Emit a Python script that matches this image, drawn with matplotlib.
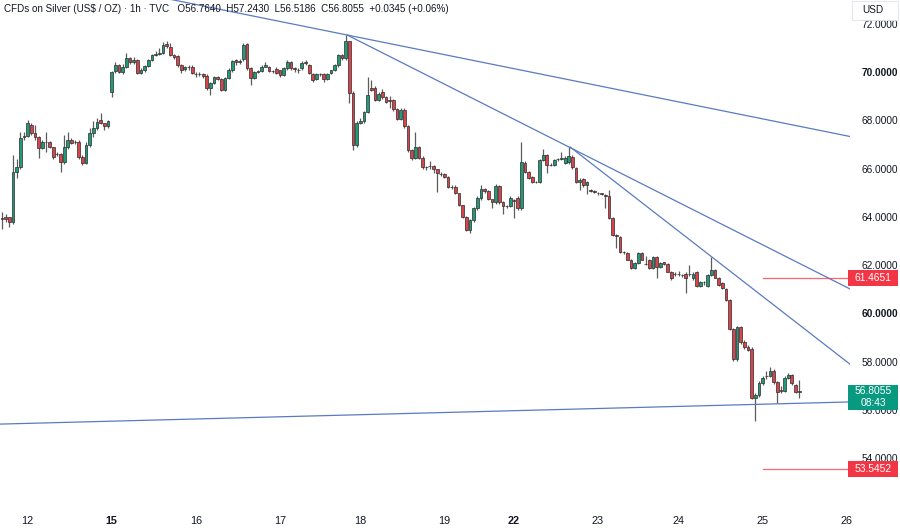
import matplotlib
matplotlib.use('Agg')
import matplotlib.pyplot as plt
import matplotlib.transforms as mtransforms
from matplotlib.patches import Rectangle
import numpy as np

# Часовые свечи CFD на серебро (TVC), 11-25 декабря
opens = [
    63.96, 64.00, 63.98, 63.79, 65.86, 66.07, 67.30, 67.35, 67.81, 67.47,
    67.31, 66.85, 67.10, 67.10, 66.89, 66.60, 66.60, 66.27, 66.89, 67.18,
    67.10, 67.10, 66.48, 66.23, 66.98, 67.47, 67.68, 68.01, 67.89, 67.76,
    69.17, 70.04, 70.29, 70.00, 70.21, 70.58, 70.41, 70.50, 69.96, 70.08,
    70.25, 70.50, 70.72, 70.75, 70.79, 71.16, 71.04, 70.71, 70.66, 70.29,
    70.12, 70.21, 70.21, 69.92, 69.92, 69.92, 69.83, 69.34, 69.54, 69.79,
    69.71, 69.25, 69.75, 70.08, 70.50, 70.41, 70.54, 71.16, 70.17, 69.75,
    70.00, 70.04, 70.21, 70.21, 70.04, 70.12, 70.08, 69.88, 70.17, 70.41,
    70.17, 70.08, 70.17, 70.37, 70.29, 69.92, 69.71, 69.92, 69.92, 69.71,
    69.96, 70.08, 70.29, 70.71, 70.58, 71.28, 69.13, 66.98, 67.89, 67.97,
    68.34, 69.34, 69.34, 68.84, 69.17, 68.96, 68.84, 68.84, 68.47, 68.05,
    68.43, 67.76, 66.77, 66.44, 66.89, 66.44, 66.07, 66.11, 66.11, 65.98,
    65.78, 65.78, 65.65, 65.24, 65.24, 64.99, 64.49, 64.00, 63.46, 63.87,
    64.37, 64.78, 65.16, 65.07, 64.74, 64.62, 65.28, 64.62, 64.45, 64.45,
    64.70, 64.78, 64.37, 66.23, 65.86, 65.65, 65.45, 65.45, 66.36, 66.56,
    66.15, 66.15, 66.38, 66.40, 66.23, 66.27, 66.48, 66.03, 65.45, 65.57,
    65.32, 65.11, 65.07, 65.00, 64.97, 64.91, 64.86, 63.96, 63.25, 63.17,
    62.55, 62.51, 62.22, 61.89, 62.09, 62.51, 62.05, 62.22, 61.89, 62.34,
    61.93, 62.13, 62.05, 61.72, 61.64, 61.64, 61.60, 61.64, 61.64, 61.47,
    61.72, 61.14, 61.31, 61.14, 61.60, 61.80, 61.47, 61.26, 61.02, 60.56,
    59.36, 58.12, 59.44, 58.82, 58.61, 58.53, 56.50, 56.63, 57.12, 57.40,
    57.42, 57.62, 57.17, 56.83, 56.79, 57.33, 57.46, 57.04, 56.764,
]
closes = [
    63.92, 63.90, 63.79, 65.86, 66.07, 67.27, 67.35, 67.89, 67.47, 67.31,
    66.85, 67.10, 67.12, 66.89, 66.48, 66.62, 66.27, 66.89, 67.18, 67.06,
    67.12, 66.48, 66.23, 66.98, 67.47, 67.68, 67.93, 67.89, 67.76, 67.97,
    70.00, 70.29, 70.00, 70.21, 70.58, 70.41, 70.50, 69.96, 70.08, 70.25,
    70.50, 70.70, 70.75, 70.78, 71.12, 71.08, 70.71, 70.62, 70.29, 70.08,
    70.21, 70.19, 69.96, 69.90, 69.92, 69.83, 69.34, 69.54, 69.79, 69.71,
    69.25, 69.75, 70.08, 70.46, 70.41, 70.46, 71.12, 70.17, 69.75, 70.00,
    70.04, 70.21, 70.29, 70.04, 70.04, 69.96, 69.88, 70.17, 70.41, 70.17,
    70.13, 70.08, 70.37, 70.40, 69.96, 69.67, 69.92, 69.90, 69.71, 69.92,
    70.08, 70.29, 70.71, 70.58, 71.28, 69.13, 66.98, 67.89, 67.97, 68.34,
    69.05, 69.25, 68.84, 69.09, 68.96, 68.76, 68.80, 68.47, 68.05, 68.43,
    67.76, 66.77, 66.44, 66.89, 66.44, 66.07, 66.05, 66.09, 65.98, 65.82,
    65.76, 65.65, 65.24, 65.22, 64.99, 64.49, 64.00, 63.46, 63.87, 64.37,
    64.78, 65.16, 65.07, 64.74, 64.62, 65.28, 64.62, 64.45, 64.43, 64.78,
    64.66, 64.37, 66.27, 65.86, 65.61, 65.45, 65.45, 66.36, 66.56, 66.15,
    66.15, 66.36, 66.40, 66.42, 66.44, 66.52, 66.07, 65.45, 65.53, 65.32,
    65.45, 65.09, 65.05, 64.98, 64.95, 64.86, 63.96, 63.25, 63.22, 62.55,
    62.53, 62.22, 61.89, 62.09, 62.51, 62.22, 62.03, 61.89, 62.34, 61.93,
    62.09, 62.05, 61.72, 61.47, 61.62, 61.62, 61.58, 61.47, 61.62, 61.64,
    61.14, 61.31, 61.29, 61.60, 61.80, 61.47, 61.18, 61.06, 60.56, 59.36,
    58.12, 59.44, 58.82, 58.61, 58.49, 56.50, 56.63, 57.12, 57.33, 57.42,
    57.62, 57.17, 56.75, 56.81, 57.33, 57.46, 57.12, 56.75, 56.8055,
]
highs = [
    64.20, 64.10, 64.00, 66.56, 66.40, 67.50, 67.50, 68.00, 67.90, 67.80,
    67.35, 67.20, 67.50, 67.15, 66.90, 66.70, 66.65, 67.40, 67.50, 67.25,
    67.20, 67.20, 66.55, 67.10, 67.70, 67.97, 68.10, 68.30, 67.90, 68.00,
    70.05, 70.41, 70.35, 70.33, 70.79, 70.60, 70.60, 70.55, 70.15, 70.30,
    70.55, 70.75, 70.85, 71.00, 71.24, 71.30, 71.20, 70.75, 70.70, 70.35,
    70.25, 70.30, 70.30, 70.00, 70.00, 69.95, 69.90, 69.60, 69.85, 69.85,
    69.75, 69.80, 70.15, 70.50, 70.55, 70.55, 71.20, 71.20, 70.20, 70.05,
    70.10, 70.30, 70.41, 70.25, 70.10, 70.20, 70.10, 70.20, 70.50, 70.45,
    70.20, 70.15, 70.45, 70.50, 70.35, 69.95, 69.95, 69.95, 69.95, 69.95,
    70.10, 70.35, 70.75, 70.75, 71.55, 71.30, 69.20, 67.95, 68.10, 68.40,
    69.79, 69.67, 69.40, 69.15, 69.30, 69.00, 69.00, 68.90, 68.50, 68.50,
    68.50, 67.80, 66.80, 67.52, 66.95, 66.50, 66.10, 66.30, 66.15, 66.00,
    65.85, 65.80, 65.70, 65.30, 65.30, 65.00, 64.50, 64.05, 63.90, 64.40,
    64.85, 65.30, 65.20, 65.10, 64.75, 65.35, 65.30, 64.65, 64.50, 64.85,
    64.75, 64.85, 67.10, 66.30, 65.90, 65.70, 65.50, 66.40, 66.81, 66.60,
    66.25, 66.40, 66.45, 66.69, 66.50, 66.89, 66.55, 66.05, 65.60, 65.60,
    65.50, 65.15, 65.10, 65.05, 65.00, 64.95, 65.11, 64.00, 63.30, 63.20,
    62.60, 62.55, 62.25, 62.15, 62.55, 62.55, 62.40, 62.25, 62.40, 62.40,
    62.15, 62.15, 62.10, 61.75, 61.70, 61.75, 61.65, 61.70, 62.00, 61.70,
    61.75, 61.35, 61.35, 61.65, 62.34, 61.85, 61.50, 61.30, 61.05, 60.60,
    59.40, 59.50, 59.50, 58.90, 58.70, 58.60, 56.70, 57.20, 57.40, 57.60,
    57.79, 57.70, 57.20, 57.00, 57.40, 57.55, 57.50, 57.10, 57.243,
]
lows = [
    63.50, 63.80, 63.60, 63.70, 65.60, 66.00, 67.20, 67.30, 67.40, 67.20,
    66.44, 66.80, 66.70, 66.85, 66.40, 66.50, 65.86, 66.20, 66.80, 67.00,
    67.00, 66.40, 66.15, 66.20, 66.90, 67.30, 67.60, 67.85, 67.60, 67.70,
    68.96, 69.95, 69.95, 69.90, 70.15, 70.35, 70.35, 69.90, 69.90, 70.00,
    70.20, 70.45, 70.65, 70.70, 70.75, 71.00, 70.65, 70.55, 70.20, 69.95,
    70.05, 70.10, 69.90, 69.80, 69.85, 69.75, 69.25, 69.05, 69.50, 69.65,
    69.20, 69.20, 69.70, 70.00, 70.30, 70.35, 70.45, 70.10, 69.46, 69.70,
    69.95, 70.00, 70.20, 70.00, 69.95, 69.90, 69.80, 69.85, 70.10, 70.10,
    70.00, 69.95, 70.10, 70.30, 69.90, 69.60, 69.65, 69.85, 69.60, 69.65,
    69.90, 70.05, 70.20, 70.50, 70.50, 68.72, 66.77, 66.90, 67.85, 67.90,
    68.30, 69.20, 68.80, 68.80, 68.90, 68.70, 68.50, 68.40, 68.00, 68.00,
    67.70, 66.70, 66.35, 66.40, 66.40, 66.00, 65.95, 66.00, 65.80, 65.03,
    65.70, 65.60, 65.20, 65.15, 64.95, 64.45, 63.95, 63.40, 63.33, 63.80,
    64.30, 64.70, 65.00, 64.70, 64.35, 64.55, 64.55, 64.10, 64.35, 64.40,
    63.96, 64.30, 64.30, 65.80, 65.55, 65.40, 65.40, 65.40, 66.30, 65.83,
    66.10, 66.10, 66.30, 66.35, 66.20, 66.20, 66.00, 65.40, 65.11, 65.25,
    64.95, 65.05, 65.00, 64.90, 64.90, 64.37, 63.90, 63.20, 62.71, 62.50,
    62.45, 62.20, 61.85, 61.85, 62.05, 62.20, 62.00, 61.85, 61.85, 61.47,
    61.90, 62.00, 61.70, 61.40, 61.55, 61.55, 61.50, 60.85, 61.55, 61.40,
    61.10, 61.10, 61.20, 61.10, 61.55, 61.45, 61.15, 61.00, 60.50, 59.30,
    58.05, 58.05, 58.75, 58.55, 58.45, 56.45, 55.55, 56.55, 57.05, 57.30,
    57.35, 57.10, 56.29, 56.70, 56.75, 57.30, 57.05, 56.70, 56.5186,
]

# Подписи дней по оси времени (номер первой свечи дня)
day_labels = ['12', '15', '16', '17', '18', '19', '22', '23', '24', '25', '26']
day_pos = [7, 30, 53, 76, 98, 121, 140, 163, 185, 208, 231]
bold_days = ['15', '22']

price_ticks = [54, 56, 58, 60, 62, 64, 66, 68, 70, 72]
bold_prices = [60, 70]

# Трендовые линии: две опорные точки (номер свечи, цена)
trend_lines = [
    (94.4, 71.53, 232.5, 67.31, True),
    (94.4, 71.53, 232.5, 60.97, False),
    (155.4, 66.89, 232.5, 57.83, False),
    (-0.5, 55.42, 232.5, 56.34, True),
]

# Горизонтальные уровни
levels = [61.4651, 53.5452]
level_start = 208

last_price = 56.8055
countdown = '08:43'
header = ('CFDs on Silver (US$ / OZ) · 1h · TVC   O56.7640  H57.2430  '
          'L56.5186  C56.8055  +0.0345 (+0.06%)')

UP = '#229a77'
DOWN = '#d9444a'
TAG_RED = '#f23645'
TAG_GREEN = '#089981'
LINE_BLUE = '#5a7bc0'
TXT = '#131722'
FONT = ['Liberation Sans', 'DejaVu Sans']

plt.rcParams['font.family'] = FONT

W, H = 900, 530
fig = plt.figure(figsize=(W / 100, H / 100), dpi=100)
ax = fig.add_axes([0, 25 / H, 850 / W, 505 / H])

o = np.array(opens)
c = np.array(closes)
hi = np.array(highs)
lo = np.array(lows)
idx = np.arange(len(o))
up = c >= o
colors = np.where(up, UP, DOWN)

# Тени и тела свечей
ax.vlines(idx, lo, hi, color='#5c5c5c', linewidth=0.9, zorder=2)
ax.bar(idx, c - o, bottom=o, width=0.75, color=colors,
       edgecolor='#2c2c2c', linewidth=0.5, zorder=3)

x_left, x_right = -0.55, 231.9
ax.set_xlim(x_left, x_right)
ax.set_ylim(52.07, 72.98)

# Трендовые линии
for x0, p0, x1, p1, ext in trend_lines:
    k = (p1 - p0) / (x1 - x0)
    xs = np.array([x_left - 50 if ext else x0, x_right + 5])
    ax.plot(xs, p0 + k * (xs - x0), color=LINE_BLUE, linewidth=0.9, zorder=4)

for lv in levels:
    ax.plot([level_start, x_right + 5], [lv, lv], color=TAG_RED,
            alpha=0.75, linewidth=0.9, zorder=4)

for s in ax.spines.values():
    s.set_visible(False)

ax.set_xticks(day_pos)
ax.set_xticklabels(day_labels)
ax.tick_params(axis='x', length=0, pad=8, labelsize=7.8, labelcolor=TXT)
for lab in ax.get_xticklabels():
    if lab.get_text() in bold_days:
        lab.set_fontweight('bold')

ax.yaxis.tick_right()
ax.set_yticks(price_ticks)
ax.set_yticklabels(['%.4f' % p for p in price_ticks])
ax.tick_params(axis='y', length=0, pad=8.5, labelsize=7.3, labelcolor=TXT)
for lab, p in zip(ax.get_yticklabels(), price_ticks):
    if p in bold_prices:
        lab.set_fontweight('bold')

# Ценовые метки справа
tr = mtransforms.blended_transform_factory(fig.transFigure, ax.transData)
px = 1 / W
ppu = 505 / (72.98 - 52.07)  # пикселей на доллар

for lv in levels:
    h = 16 / ppu
    fig.add_artist(Rectangle((848 * px, lv - h / 2), 50 * px, h, transform=tr,
                             facecolor=TAG_RED, edgecolor='none', zorder=10))
    fig.text(873 * px, lv, '%.4f' % lv, transform=tr, color='white',
             fontsize=7.4, ha='center', va='center', zorder=11)

top = last_price + 6 / ppu
bot = last_price - 19 / ppu
fig.add_artist(Rectangle((848 * px, bot), 50 * px, top - bot, transform=tr,
                         facecolor=TAG_GREEN, edgecolor='none', zorder=10))
fig.text(873 * px, last_price, '%.4f' % last_price, transform=tr,
         color='white', fontsize=7.4, ha='center', va='center', zorder=11)
fig.text(873 * px, last_price - 12 / ppu, countdown, transform=tr,
         color='white', fontsize=7.4, ha='center', va='center', zorder=11)

# Плашка валюты
fig.add_artist(Rectangle((852 * px, 1 - 20 / H), 46 * px, 19 / H,
                         transform=fig.transFigure, facecolor='white',
                         edgecolor='#e0e3eb', linewidth=0.6, zorder=10))
fig.text(862 * px, 1 - 10 / H, 'USD', color=TXT, fontsize=7.2,
         va='center', ha='left', zorder=11)

fig.text(4 * px, 1 - 9 / H, header, color=TXT, fontsize=7.1,
         va='center', ha='left', zorder=11)

fig.savefig('out.png', dpi=100, facecolor='white')
